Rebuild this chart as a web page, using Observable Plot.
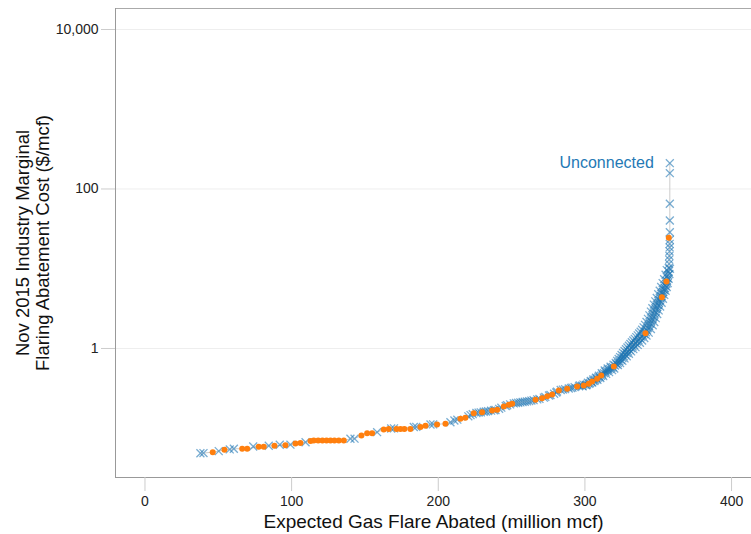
<!DOCTYPE html>
<html>
<head>
<meta charset="utf-8">
<script src="https://cdn.jsdelivr.net/npm/d3@7"></script>
<script src="https://cdn.jsdelivr.net/npm/@observablehq/plot@0.6"></script>
<style>
  html, body { margin: 0; padding: 0; background: #fff; }
  #chart { width: 751px; height: 534px; }
</style>
</head>
<body>
<div id="chart"></div>
<script>
// Unconnected wells (blue x markers)
const blueX = [
  37.8, 39.9, 50.3, 57.8, 60.6, 73.8, 84.4, 91.9, 99.2, 109.5, 140.1, 142.9,
  158.3, 167.9, 169.8, 183.3, 185.0, 194.7, 196.5, 208.3, 211.0, 213.0, 220.5, 222.0,
  223.5, 226.0, 227.5, 229.0, 231.0, 232.5, 234.0, 236.0, 238.0, 239.0, 241.5, 243.0,
  246.0, 247.0, 249.0, 251.5, 253.0, 254.5, 256.0, 257.5, 259.0, 260.5, 262.0, 263.5,
  265.0, 267.5, 269.0, 272.0, 273.0, 275.5, 276.5, 279.0, 280.5, 281.0, 283.5, 285.0,
  286.5, 289.0, 290.5, 291.5, 293.0, 296.0, 298.0, 300.5, 301.5, 303.5, 304.5, 305.5,
  307.0, 308.0, 309.0, 310.0, 311.0, 312.0, 313.0, 314.0, 315.0, 316.0, 317.0, 318.0,
  319.0, 320.5, 321.5, 322.5, 323.5, 324.5, 325.5, 326.5, 327.5, 328.5, 329.5, 330.5,
  331.5, 332.5, 333.5, 334.5, 335.5, 336.5, 337.5, 338.5, 339.5, 340.5, 341.5, 342.3,
  343.0, 343.8, 344.5, 345.2, 346.0, 346.7, 347.4, 348.0, 348.6, 349.2, 349.8, 350.4,
  351.0, 351.6, 352.2, 352.8, 353.4, 354.0, 354.6, 355.1, 355.6, 356.0, 356.4, 356.7,
  357.0, 357.2, 357.4, 357.5, 357.6, 357.7, 357.8, 357.8, 357.9, 357.9, 357.9, 357.9,
  357.9, 357.9,
  296.5, 299.0, 302.0, 304.0, 305.8, 307.5, 309.5, 311.5, 313.5, 315.5, 317.5, 319.5,
  298.5, 301.0, 303.0, 305.0, 306.5, 308.5, 310.5, 312.5, 314.5, 316.5, 318.5, 320.0,
  321.0, 322.0, 323.0, 324.0, 325.0, 326.0, 327.0, 328.0, 329.0, 330.0, 331.0, 332.0,
  333.0, 334.0, 335.0, 336.0, 337.0, 338.0, 339.0, 340.0, 341.0, 342.0, 343.0, 344.0,
  345.0, 346.0, 347.0, 348.0, 349.0, 350.0, 351.0, 352.0, 353.0, 354.0, 355.0, 355.8,
  322.5, 324.0, 325.5, 327.0, 328.5, 330.0, 331.5, 333.0, 334.5, 336.0, 337.5, 339.0,
  340.5, 342.0, 343.5, 345.0, 346.2, 347.3, 348.3, 349.3, 350.3, 351.3, 352.3, 353.2,
  354.1, 355.0, 355.8, 356.5, 357.1, 357.6, 358.0
];
const blueY = [
  0.0486, 0.0488, 0.0516, 0.0542, 0.0553, 0.059, 0.0603, 0.062, 0.0622, 0.0668, 0.0738, 0.074,
  0.0892, 0.0993, 0.0995, 0.1037, 0.104, 0.1114, 0.1117, 0.119, 0.125, 0.128, 0.141, 0.146,
  0.150, 0.155, 0.157, 0.158, 0.161, 0.162, 0.164, 0.166, 0.168, 0.169, 0.175, 0.181,
  0.190, 0.194, 0.199, 0.205, 0.207, 0.209, 0.211, 0.213, 0.215, 0.217, 0.219, 0.222,
  0.225, 0.230, 0.233, 0.242, 0.247, 0.257, 0.261, 0.271, 0.280, 0.288, 0.301, 0.305,
  0.309, 0.315, 0.319, 0.323, 0.328, 0.336, 0.341, 0.350, 0.355, 0.370, 0.380, 0.395,
  0.405, 0.420, 0.432, 0.440, 0.455, 0.470, 0.490, 0.510, 0.525, 0.540, 0.555, 0.570,
  0.585, 0.610, 0.635, 0.660, 0.690, 0.720, 0.760, 0.800, 0.840, 0.880, 0.920, 0.960,
  1.01, 1.06, 1.11, 1.16, 1.22, 1.28, 1.34, 1.40, 1.46, 1.52, 1.60, 1.70,
  1.80, 1.92, 2.05, 2.20, 2.35, 2.50, 2.70, 2.90, 3.10, 3.30, 3.50, 3.75,
  4.00, 4.25, 4.50, 4.80, 5.10, 5.40, 5.70, 6.10, 6.50, 7.00, 7.60, 8.30,
  9.2, 10.2, 11.5, 13.0, 14.5, 16.5, 18.5, 20.5, 23.0, 28.7, 40.3, 65.2,
  157.8, 210.6,
  0.345, 0.352, 0.372, 0.392, 0.410, 0.430, 0.455, 0.490, 0.530, 0.560, 0.590, 0.625,
  0.335, 0.345, 0.360, 0.375, 0.390, 0.405, 0.425, 0.450, 0.480, 0.505, 0.535, 0.560,
  0.66, 0.70, 0.74, 0.78, 0.83, 0.88, 0.93, 0.98, 1.03, 1.08, 1.14, 1.20,
  1.26, 1.32, 1.39, 1.46, 1.54, 1.62, 1.72, 1.84, 1.98, 2.15, 2.35, 2.60,
  2.90, 3.20, 3.55, 3.90, 4.30, 4.80, 5.30, 5.90, 6.60, 7.40, 8.40, 9.60,
  0.62, 0.655, 0.70, 0.75, 0.80, 0.86, 0.92, 0.98, 1.04, 1.11, 1.18, 1.26,
  1.35, 1.45, 1.58, 1.75, 1.95, 2.15, 2.40, 2.70, 3.00, 3.35, 3.75, 4.20,
  4.70, 5.30, 5.90, 6.60, 7.50, 8.60, 10.0
];
// Connected wells (orange dots)
const orangeX = [
  46.2, 54.2, 66.3, 69.7, 77.6, 81.0, 88.3, 95.8, 102.6, 106.0, 112.9, 115.1,
  118.1, 121.0, 123.8, 126.5, 129.2, 132.2, 135.6, 147.6, 151.5, 154.9, 162.8, 166.2,
  171.5, 174.2, 176.9, 181.0, 187.9, 191.3, 199.2, 204.9, 215.1, 218.5, 224.2, 229.9,
  236.8, 240.2, 244.7, 248.1, 250.4, 266.3, 270.8, 274.3, 277.7, 282.2, 287.9, 294.7,
  299.2, 302.6, 304.9, 308.3, 311.1, 319.7, 341.3, 352.5, 355.6, 357.2
];
const orangeY = [
  0.0501, 0.0537, 0.0553, 0.0553, 0.0585, 0.0585, 0.0603, 0.061, 0.0645, 0.0653, 0.0689, 0.0702,
  0.0702, 0.0702, 0.0702, 0.0702, 0.0702, 0.0702, 0.0702, 0.0811, 0.0867, 0.0867, 0.0964, 0.0975,
  0.098, 0.098, 0.098, 0.098, 0.1037, 0.1074, 0.1114, 0.1137, 0.1314, 0.1352, 0.154, 0.159,
  0.167, 0.170, 0.187, 0.197, 0.203, 0.2275, 0.238, 0.252, 0.265, 0.297, 0.3125, 0.334,
  0.3435, 0.360, 0.384, 0.417, 0.459, 0.595, 1.555, 4.40, 6.92, 24.4
];
const xTicks = [0, 100, 200, 300, 400];
const yTicks = [1, 100, 10000];
const xDomain = [-20.1, 413.6];
const yDomain = [0.0241, 18330];
const annotation = ["Unconnected"];
const xTitle = "Expected Gas Flare Abated (million mcf)";
const yTitle = "Nov 2015 Industry Marginal\nFlaring Abatement Cost ($/mcf)";

const blue = blueX.map((x, i) => ({x, y: blueY[i], type: "Unconnected"}));
const orange = orangeX.map((x, i) => ({x, y: orangeY[i], type: "Connected"}));
const all = [...blue, ...orange].sort((a, b) => a.y - b.y || a.x - b.x);
const topPoint = blue.reduce((a, b) => (b.y > a.y ? b : a));

const fmt = d3.format(",");
const chart = Plot.plot({
  width: 751,
  height: 534,
  marginLeft: 115,
  marginRight: 0,
  marginTop: 8,
  marginBottom: 57,
  style: {fontFamily: "'Liberation Sans', Arial, sans-serif", fontSize: "14px", background: "#fff", color: "#222"},
  x: {domain: xDomain},
  y: {type: "log", domain: yDomain},
  marks: [
    Plot.gridY(yTicks, {stroke: "#eeeeee", strokeOpacity: 1}),
    Plot.ruleY([yDomain[1]], {stroke: "#aaa"}),
    Plot.ruleY([yDomain[0]], {stroke: "#999"}),
    Plot.ruleX([xDomain[0]], {stroke: "#999"}),
    Plot.axisX({ticks: xTicks, tickFormat: fmt, tickSize: 14, tickPadding: 5, stroke: "#ccc", fill: "#222", fontSize: 14, label: null}),
    Plot.axisY({ticks: yTicks, tickFormat: fmt, tickSize: 14, tickPadding: 3, stroke: "#ccc", fill: "#222", fontSize: 14, label: null}),
    Plot.line(all, {x: "x", y: "y", stroke: "#cccccc", strokeWidth: 1}),
    Plot.dot(blue, {x: "x", y: "y", symbol: "times", r: 3.7, stroke: "#1f77b4", strokeOpacity: 0.6, strokeWidth: 1.3}),
    Plot.dot(orange, {x: "x", y: "y", r: 3, fill: "#ff7f0e", stroke: "none"}),
    Plot.text([topPoint], {x: "x", y: "y", text: () => annotation[0], textAnchor: "end", dx: -16, fill: "#2479b5", fontSize: 16}),
    Plot.text([xTitle], {frameAnchor: "bottom", lineAnchor: "middle", textAnchor: "middle", dy: 44, fontSize: 19, fill: "#111"}),
    Plot.text([yTitle], {frameAnchor: "left", textAnchor: "middle", lineAnchor: "middle", dx: -83, rotate: -90, fontSize: 18.5, lineHeight: 1.08, fill: "#111"})
  ]
});
document.getElementById("chart").appendChild(chart);
</script>
</body>
</html>
